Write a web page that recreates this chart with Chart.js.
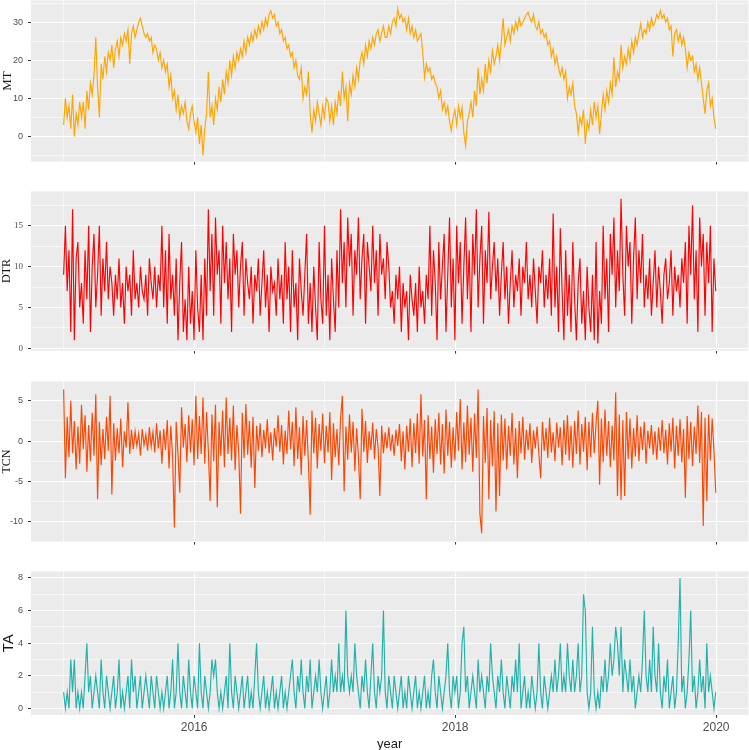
<!DOCTYPE html>
<html>
<head>
<meta charset="utf-8">
<script src="https://cdn.jsdelivr.net/npm/chart.js@4"></script>
<style>
  html, body { margin: 0; padding: 0; background: #ffffff; }
  #stage { position: relative; width: 749px; height: 750px; overflow: hidden; }
  .panel { position: absolute; left: 0; width: 749px; }
</style>
</head>
<body>
<div id="stage"></div>
<script>
// ---- time axis: samples every 5 days from 2015-01-01 ----
const startYear = 2015;
const stepDays = 5;
const xTicks = [2015, 2016, 2017, 2018, 2019, 2020];
const xLabelTicks = [2016, 2018, 2020];

// ---- series values ----
const MT = [
  3, 10, 5, 8, 2, 11, 0, 6, 3, 9,
  5, 9, 2, 12, 7, 14, 11, 16, 26, 13,
  5, 19, 15, 21, 17, 22, 20, 24, 18, 23,
  25, 21, 26, 24, 27, 25, 28, 19, 27, 29,
  26, 28, 30, 31, 29, 27, 26, 27, 25, 26,
  22, 24, 23, 20, 22, 18, 20, 17, 19, 13,
  16, 10, 12, 7, 11, 5, 8, 6, 9, 4,
  2, 6, 8,
  4, 1, 5, -2, 3, -5, 2, 6, 17, 5,
  8, 3, 10, 7, 13, 9, 15, 11, 17, 14,
  20, 16, 21, 18, 22, 20, 23, 21, 25, 22,
  26, 24, 27, 25, 28, 26, 29, 27, 30, 28,
  31, 29, 32, 33, 31, 32, 29, 30, 27, 28,
  25, 26, 23, 24, 21, 22, 18, 20, 16, 15,
  18, 10, 13, 11, 17, 6, 1, 7, 4, 9,
  6, 3, 8,
  5, 10, 9, 4, 8, 3, 9, 6, 12, 8,
  17, 10, 13, 4, 14, 11, 16, 13, 18, 15,
  20, 22, 19, 24, 21, 25, 23, 26, 24, 27,
  28, 25, 27, 29, 26, 26, 29, 27, 30, 31,
  29, 33.5, 31, 32, 30, 31, 28, 31, 27, 29,
  26, 28, 25, 26, 27, 22, 15.5, 19, 17, 18,
  15, 16, 14, 13, 10, 12, 7, 9, 6, 8,
  4, 1.5, 5,
  7, 3, 8, 5, 7.6, 1, -2.5, 4, 6, 9,
  5, 12, 8, 18, 11, 15, 12, 19, 14, 20,
  17, 22.5, 19, 21, 24, 20, 25, 31, 24, 26,
  28, 25, 29, 27, 30, 28, 31, 29, 30, 31,
  32, 32.6, 31, 30, 32, 29, 28, 30, 27, 28,
  26, 27, 24, 25, 21, 23, 19, 21, 18, 16,
  18, 15, 17, 10, 13, 11, 14, 8, 6, 1,
  5, 3, 7,
  -2, 4, 2, 7, 3, 9, 5, 8, 0.6, 6,
  11, 7, 12, 9, 14, 11, 20.8, 13, 17, 15,
  24, 18, 21, 19, 23, 20, 25, 22, 26, 24,
  27, 29.6, 26, 28, 27, 30, 28, 31, 29, 30,
  32, 31, 33, 31, 32, 30, 31, 28, 29, 21,
  27, 28, 25, 27, 24, 26, 23, 18, 22, 20,
  21, 17, 19, 15, 18, 14, 10, 6, 12, 14,
  8, 10, 5, 2
];

const DTR = [
  9, 15, 7, 12, 2, 17, 1, 11, 13, 5,
  8, 3, 12, 6, 15, 2, 10, 14, 5, 9, 15, 4, 11, 7, 13, 6, 10,
  8, 4, 9, 6, 11, 5, 8, 3, 10, 7, 9, 4, 12, 6, 8, 5, 10, 7, 6, 9, 4, 11, 8, 6, 10, 5, 9, 7,
  15, 5, 12, 3, 14, 6, 9,
  4, 11, 1, 8, 13, 2, 6, 1, 10, 3, 7, 1, 12, 5, 2, 9, 1, 11, 4,
  17, 7, 14, 4, 16, 9, 12, 3, 15, 8, 13, 6, 11, 2, 14, 9, 12, 5, 10, 13, 4, 11, 8,
  6, 10, 3, 9, 7, 11, 4, 8, 12, 5, 9, 2, 10, 7, 8, 4, 11, 6,
  9, 3, 13, 6, 10, 2, 12, 5, 8, 1, 11, 7, 4, 9, 14, 3, 8,
  2, 10, 5, 1, 13, 6, 3, 15, 4, 9, 1, 11, 6, 2, 12, 5,
  17, 8, 13, 5, 16, 10, 14, 4, 12, 9, 16, 6, 11, 14, 3, 13, 10, 7, 15, 8, 12, 4, 14, 9, 11, 6, 13, 10, 5,
  7, 3, 9, 6, 10, 2, 8, 5, 7, 1, 9, 6, 4, 8, 2, 10, 5, 7, 3, 9, 6,
  15, 4, 12, 8, 1, 13, 6, 10, 14, 2, 9, 16, 5, 11, 1, 15, 8, 13, 3, 10, 16, 6, 12, 2, 14, 9, 17, 5, 11, 15, 3, 12, 8, 16.7, 6, 10, 13,
  7, 11, 4, 9, 13, 6, 10, 3, 8, 12, 5, 9, 7, 11, 4, 10, 8, 13, 6, 9, 5, 11, 7, 3, 10, 8, 12, 5, 9, 6, 11, 4,
  16.5, 5, 10, 2, 14.7, 7, 1, 12, 4, 9, 2, 13, 6, 1, 8, 11, 3, 7, 1, 10, 5, 2,
  9, 1, 13, 0.6, 7, 3, 15, 6, 11, 2, 14, 9, 16, 5, 12, 7, 18.3, 9, 4, 15, 10, 13, 3, 11, 16, 6, 12, 8, 14, 5,
  9, 6, 11, 4, 8, 12, 5, 10, 7, 3, 9, 11, 6, 8, 12, 4, 10, 7, 9, 5, 11, 8,
  13, 3, 15, 9, 17.5, 6, 12, 2, 16, 10, 14, 4, 13, 8, 15, 2, 11, 7
];

const TCN = [
  6.4, -4.6, 3, -2, 5, -1.5, 2.5, -3.5, 1.8, -2.8,
  4.5, -1, 3.2, -3.8, 2, -2.5, 3.5, -1.8, 5.8, -7.2,
  2.4, -3, 1.5, -2.2, 3, -1.2, 5.6, -6.6, 2.2, -2.4,
  1.6, -1.5, 2.8, -3.2, 1.2, -0.8, 4.8, -1.6, 1.4, -1,
  1.2, -0.6, 0.9, -1.8, 1.5, -0.5, 0.8, -1.2, 1.7, -0.7,
  1.1, -1.4, 2.2, -0.9, 1.3, -2.8, 1.5, -1.1, 2.6, -3.4,
  1.9, -2, -10.7, 2.4, -1.5, -6.4, 4.2, -0.8, 2.1, -2.6,
  3.2, -1.4, 2.7, -3, 5.6, -2.2, 3.1, -1.6, 5.4, -2.8,
  3.6, -1.2, -7.4, 3.3, -2.5, 4.5, -8.2, 2.4, -1.8, 3.8,
  -3.2, 5.4, -1.6, 2.9, -2.4, 4.4, -3.6, 2, -1.3, -9,
  3.5, -2.1, 4.6, -1.7, 2.5, -3.3, 3, -5.8, 1.9, -1.2,
  2.2, -2, 1.4, -0.9, 2.7, -1.5, 1.1, -2.4, 1.6, -0.7,
  3.2, -1.3, 2, -2.9, 1.3, -1.6, 3.8, -1, 2.4, -3.1,
  4.2, -2.2, 1.7, -4.2, 3.1, -1.8, 2.6, -2.6, -9.1, 3.8,
  -1.5, 2.9, -3.4, 2.1, -1.2, 3.4, -2.7, 1.9, -1.4, 3.6,
  -4.8, 2.2, -2, 1.5, -3, 2.8, 5.6, -6.2, 1.8, -2.3,
  3.3, -1.4, 2.4, -3.7, 1.6, -1.9, -7.2, 4, -1.3, 2.5,
  -2.7, 1.2, -1.1, 2.3, -2.2, 1.5, -0.8, -6.8, 1.9, -1.5,
  1.1, -0.9, 1.7, -1.2, 0.8, -1.8, 1.4, -0.6, 2.1, -2.5,
  1.2, -3.5, 1.9, -1.3, 2.8, -3.2, 2.2, -1.5, 3.4, -2.8,
  5.8, -1.9, 2.6, -7.2, 3.2, -2.2, 1.8, -3.9, 2.7, -1.6,
  3.5, -2.9, 2.1, -4, 3.9, -1.8, 2.4, -3.3, 1.7, -2.4,
  3.6, -1.2, 5.2, -3.5, 2.3, -2.6, 4.4, -1.7, 2.9, -3.8,
  3.4, -2.1, 6.4, -9, -11.4, 3.1, -2.7, 4.1, -7.2, 2.6,
  -3.1, 3.7, -8.7, 2.2, -6.8, 3.3, -2.4, 2.8, -3.5, 1.9,
  -1.8, 3.5, -2.9, 1.6, -4.6, 2.5, -1.5, 3, -2.3, 1.4,
  -1.1, 2.2, -2.7, 1.3, -0.9, 1.8, -1.6, -4.6, 2.4, -1.2,
  1.6, -2.1, 2.9, -1.4, 1.1, -2.5, 2.3, -0.8, 1.7, -3,
  2.6, -1.7, 3.2, -2.4, 1.9, -3.3, 2.5, -1.6, 3.8, -2.9,
  2.1, -1.3, 3, -3.6, 2.4, -2, 3.5, -1.5, 2.2, 5,
  -5.4, 2.8, -2.6, 3.9, -1.8, 2.5, -3.2, 1.9, -2.4, 6,
  -6.8, 3.3, -7.3, 2.6, -6.8, 3.6, -2.2, 2.8, -3.4, 1.6,
  -1.9, 3.2, -2.5, 1.8, -1.1, 2.4, -2.8, 1.3, -0.9, 2,
  -1.7, 1.2, -2.3, 1.7, -1.2, 2.6, -1.5, 1.4, -2.9, 2.2,
  -1.3, 2.9, -3.4, 1.9, -1.8, 2.7, -2.6, 1.5, -7, 3.1,
  -2.2, 2.4, -3.1, 1.8, -1.6, 4.4, -2.7, 3.6, -10.5, 2.9,
  -7.4, 3.3, -2.4, 2.8, -1.2, -6.4
];

const TA = [
  1,0,1,0,3,1,3,0,1,0, 1,0,2,4,1,2,0,1,2,1, 0,3,1,0,2,1,0,1,2,0,
  1,3,0,1,0,1,2,0,3,1, 2,0,1,2,0,1,2,1,0,2, 1,0,2,1,0,1,0,1,2,0,
  1,3,0,1,4,1,0,2,1,0, 3,1,0,
  2,1,0,4,1,0,2,1,0,1, 3,2,3,1,0,1,0,1,2,0, 4,1,0,2,1,0,1,2,0,1,
  2,0,1,0,2,4,1,0,1,2, 0,1,0,1,2,0,1,0,1,2, 0,1,0,1,2,3,1,0,2,1,
  3,1,0,2,1,3,0,1,2,1, 3,1,0,
  1,2,0,1,3,1,2,1,4,1, 2,1,6,2,1,2,1,4,2,1, 0,2,1,3,1,0,2,4,1,0,
  2,1,2,6,1,0,2,1,0,2, 1,0,1,2,0,1,0,2,1,0, 1,2,0,1,0,1,2,0,1,0,
  2,3,1,0,2,1,0,1,2,4, 1,0,2,
  1,2,0,1,4,5,1,2,0,1, 2,1,0,3,1,2,1,0,2,1, 4,2,1,0,2,1,3,1,0,2,
  1,0,2,1,3,1,4,0,1,2, 0,1,0,2,1,0,1,4,1,0, 2,1,0,1,2,1,3,1,2,4,
  1,2,1,4,2,1,3,1,2,4, 1,2,7,
  6,1,0,1,5,1,0,1,0,2, 1,3,1,2,4,2,3,5,4,2, 5,1,3,2,1,3,1,2,0,1,
  2,1,3,6,2,1,3,1,5,2, 1,4,1,0,2,1,3,0,1,2, 0,1,4,8,1,2,0,1,3,6,
  1,2,0,1,3,1,2,0,4,1, 2,1,0,1
];

// ---- tick values / labelled ticks ----
const mtTicks = [-5, 0, 5, 10, 15, 20, 25, 30, 35];
const mtLabels = [0, 10, 20, 30];
const dtrTicks = [0, 2.5, 5, 7.5, 10, 12.5, 15, 17.5];
const dtrLabels = [0, 5, 10, 15];
const tcnTicks = [-10, -7.5, -5, -2.5, 0, 2.5, 5];
const tcnLabels = [-10, -5, 0, 5];
const taTicks = [0, 1, 2, 3, 4, 5, 6, 7, 8];
const taLabels = [0, 2, 4, 6, 8];

const SANS = "'Liberation Sans', Arial, sans-serif";
const SERIF = "'Liberation Serif', 'Times New Roman', serif";
Chart.defaults.font.family = SANS;

const panelBg = {
  id: 'panelBg',
  beforeDraw(chart) {
    const a = chart.chartArea, ctx = chart.ctx;
    ctx.save();
    ctx.fillStyle = '#EBEBEB';
    ctx.fillRect(a.left, a.top, a.right - a.left, a.bottom - a.top);
    ctx.restore();
  }
};

function toPoints(values) {
  return values.map((v, i) => ({ x: startYear + (i * stepDays) / 365.25, y: v }));
}

function makeConfig(p) {
  const isXMajor = v => xLabelTicks.includes(v);
  const isYMajor = v => p.yLabels.includes(v);
  return {
    type: 'line',
    data: {
      datasets: [{
        data: toPoints(p.values),
        borderColor: p.color,
        borderWidth: 1.15,
        pointRadius: 0,
        tension: 0,
        fill: false
      }]
    },
    options: {
      responsive: false,
      maintainAspectRatio: false,
      animation: false,
      events: [],
      layout: { padding: 0 },
      plugins: { legend: { display: false }, tooltip: { enabled: false } },
      scales: {
        x: {
          type: 'linear',
          min: 2014.75,
          max: 2020.247,
          afterBuildTicks: s => { s.ticks = xTicks.map(v => ({ value: v })); },
          border: { display: false },
          grid: {
            color: '#ffffff',
            lineWidth: c => (c.tick && isXMajor(c.tick.value)) ? 1.1 : 0.55,
            drawTicks: true,
            tickLength: 3,
            tickWidth: 1,
            tickColor: c => (c.tick && isXMajor(c.tick.value)) ? '#333333' : 'rgba(0,0,0,0)'
          },
          ticks: {
            display: p.showX,
            autoSkip: false,
            maxRotation: 0,
            padding: 2,
            color: '#4D4D4D',
            font: { size: 12, family: SANS },
            callback: v => isXMajor(v) ? String(v) : ''
          },
          title: {
            display: p.showX,
            text: 'year',
            color: '#1a1a1a',
            font: { size: 13, family: SANS },
            padding: { top: 0, bottom: 0 }
          }
        },
        y: {
          type: 'linear',
          min: p.yMin,
          max: p.yMax,
          afterBuildTicks: s => { s.ticks = p.yTicks.map(v => ({ value: v })); },
          afterFit: s => { s.width = 31; },
          border: { display: false },
          grid: {
            color: '#ffffff',
            lineWidth: c => (c.tick && isYMajor(c.tick.value)) ? 1.1 : 0.55,
            drawTicks: true,
            tickLength: 3,
            tickWidth: 1,
            tickColor: c => (c.tick && isYMajor(c.tick.value)) ? '#333333' : 'rgba(0,0,0,0)'
          },
          ticks: {
            autoSkip: false,
            padding: 5,
            color: '#4D4D4D',
            font: { size: 9, family: p.tickFamily },
            callback: v => isYMajor(v) ? String(v) : ''
          },
          title: {
            display: true,
            text: p.title,
            color: '#1a1a1a',
            font: { size: p.titleSize, family: p.titleFamily },
            padding: { top: 0, bottom: 0 }
          }
        }
      }
    },
    plugins: [panelBg]
  };
}

function placePanel(p) {
  const stage = document.getElementById('stage');
  const wrap = document.createElement('div');
  wrap.className = 'panel';
  const canvas = document.createElement('canvas');
  const h0 = 200;
  canvas.width = 749; canvas.height = h0;
  wrap.style.height = h0 + 'px';
  wrap.appendChild(canvas);
  stage.appendChild(wrap);
  const chart = new Chart(canvas, makeConfig(p));
  let ca = chart.chartArea;
  const extra = h0 - (ca.bottom - ca.top);
  const h = Math.round((p.B - p.T) + extra);
  wrap.style.height = h + 'px';
  chart.resize(749, h);
  ca = chart.chartArea;
  wrap.style.top = Math.round(p.T - ca.top) + 'px';
  return chart;
}

placePanel({ values: MT, color: '#FFA500', title: 'MT', titleSize: 13, titleFamily: SERIF, tickFamily: SANS,
  yMin: -6.6, yMax: 35.7, yTicks: mtTicks, yLabels: mtLabels, showX: false, T: 0, B: 161 });
placePanel({ values: DTR, color: '#FF0000', title: 'DTR', titleSize: 12, titleFamily: SERIF, tickFamily: SERIF,
  yMin: -0.28, yMax: 19.2, yTicks: dtrTicks, yLabels: dtrLabels, showX: false, T: 191.5, B: 351 });
placePanel({ values: TCN, color: '#FF4500', title: 'TCN', titleSize: 12, titleFamily: SERIF, tickFamily: SANS,
  yMin: -12.44, yMax: 7.39, yTicks: tcnTicks, yLabels: tcnLabels, showX: false, T: 381, B: 541 });
placePanel({ values: TA, color: '#20B2AA', title: 'TA', titleSize: 15, titleFamily: SANS, tickFamily: SANS,
  yMin: -0.4, yMax: 8.4, yTicks: taTicks, yLabels: taLabels, showX: true, T: 571.5, B: 715 });
</script>
</body>
</html>
